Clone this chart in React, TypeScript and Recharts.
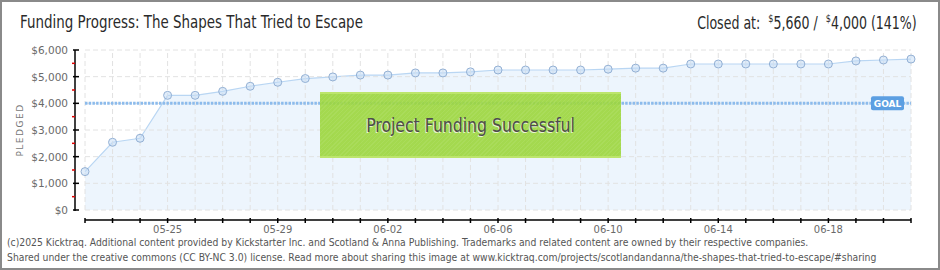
import React from 'react'
import {
  Area,
  ComposedChart,
  ReferenceLine,
  XAxis,
  YAxis,
} from 'recharts'

// daily pledged totals
const DATES = [
  '05-22', '05-23', '05-24', '05-25', '05-26', '05-27', '05-28', '05-29',
  '05-30', '05-31', '06-01', '06-02', '06-03', '06-04', '06-05', '06-06',
  '06-07', '06-08', '06-09', '06-10', '06-11', '06-12', '06-13', '06-14',
  '06-15', '06-16', '06-17', '06-18', '06-19', '06-20', '06-21',
]
const PLEDGED = [
  1440, 2540, 2690, 4300, 4300, 4450, 4640, 4790, 4930, 4990, 5060, 5060,
  5140, 5140, 5180, 5250, 5250, 5250, 5250, 5280, 5320, 5320, 5475, 5475,
  5475, 5475, 5475, 5475, 5590, 5625, 5660,
]
const X_TICK_LABELS = ['05-25', '05-29', '06-02', '06-06', '06-10', '06-14', '06-18']
const Y_TICKS = [0, 500, 1000, 1500, 2000, 2500, 3000, 3500, 4000, 4500, 5000, 5500, 6000]
const Y_GRID = [0, 1000, 2000, 3000, 4000, 5000, 6000]
const GOAL = 4000

const data = DATES.map((date, i) => ({ i, date, pledged: PLEDGED[i] }))
const lastIndex = DATES.length - 1

const FONT = "'DejaVu Sans', sans-serif"

// no condensed face installed, so squeeze the header/footer text horizontally
const squeezed = (scale: number, origin: string): React.CSSProperties => ({
  fontFamily: FONT,
  whiteSpace: 'nowrap',
  transform: `scaleX(${scale})`,
  transformOrigin: origin,
})

function YTick({ x, y, payload }: any) {
  const v = payload.value as number
  const major = v % 1000 === 0
  return (
    <g>
      {major ? (
        <line x1={x + 5} x2={x + 11} y1={y} y2={y} stroke="#000" strokeWidth={1.5} />
      ) : (
        <line x1={x + 4} x2={x + 7} y1={y} y2={y} stroke="#e00000" strokeWidth={1.5} />
      )}
      {major && (
        <text x={x} y={y} dy={4} textAnchor="end" fontSize={10.5} fill="#6a6a6a" fontFamily={FONT}>
          {'$' + v.toLocaleString('en-US')}
        </text>
      )}
    </g>
  )
}

function XTick({ x, y, payload }: any) {
  const label = DATES[payload.value]
  return (
    <g>
      <line x1={x} x2={x} y1={y - 2} y2={y + 3} stroke="#000" strokeWidth={1.5} />
      {X_TICK_LABELS.includes(label) && (
        <text x={x} y={y + 13} textAnchor="middle" fontSize={10} fill="#6a6a6a" fontFamily={FONT}>
          {label}
        </text>
      )}
    </g>
  )
}

function GoalLabel({ viewBox }: any) {
  const right = viewBox.x + viewBox.width
  return (
    <g>
      <rect x={right - 40} y={viewBox.y - 7} width={33} height={14} rx={2} fill="#5c9fe2" />
      <text
        x={right - 23.5}
        y={viewBox.y + 3.5}
        textAnchor="middle"
        fontSize={9}
        fontWeight="bold"
        fill="#fff"
        fontFamily={FONT}
      >
        GOAL
      </text>
    </g>
  )
}

export default function App() {
  return (
    <div style={{ position: 'absolute', left: 0, top: 0, width: 940, height: 270, background: '#fff', overflow: 'hidden' }}>
      <ComposedChart
        width={940}
        height={270}
        data={data}
        margin={{ top: 50, right: 29, left: 0, bottom: 0 }}
      >
        <XAxis
          type="number"
          dataKey="i"
          domain={[0, lastIndex]}
          ticks={data.map((d) => d.i)}
          interval={0}
          padding={{ left: 10, right: 0 }}
          height={50}
          tickSize={0}
          tickMargin={0}
          tickLine={false}
          axisLine={{ stroke: '#000', strokeWidth: 1.5, strokeDasharray: '0 10 826 10' }}
          tick={<XTick />}
        />
        <YAxis
          type="number"
          domain={[0, 6000]}
          ticks={Y_TICKS}
          interval={0}
          padding={{ top: 0, bottom: 10 }}
          width={75}
          tickSize={0}
          tickMargin={7}
          tickLine={false}
          axisLine={{ stroke: '#000', strokeWidth: 1.5, strokeDasharray: '161 20' }}
          tick={<YTick />}
        />
        {data.map((d) => (
          <ReferenceLine
            key={'v' + d.i}
            segment={[{ x: d.i, y: 0 }, { x: d.i, y: 6000 }]}
            stroke="#e2e2e2"
            strokeDasharray="5 3"
          />
        ))}
        {Y_GRID.map((v) => (
          <ReferenceLine
            key={'h' + v}
            segment={[{ x: 0, y: v }, { x: lastIndex, y: v }]}
            stroke="#e2e2e2"
            strokeDasharray="5 3"
          />
        ))}
        <Area
          type="linear"
          dataKey="pledged"
          stroke="#b9d6f3"
          strokeWidth={1.2}
          fill="#dcebfb"
          fillOpacity={0.5}
          dot={{ r: 4, fill: '#c4dcf6', stroke: '#93b0d4', strokeWidth: 1 }}
          activeDot={false}
          isAnimationActive={false}
        />
        <ReferenceLine
          segment={[{ x: 0, y: GOAL }, { x: lastIndex, y: GOAL }]}
          stroke="#8cbbec"
          strokeWidth={3}
          strokeDasharray="2.5 1.2"
          label={<GoalLabel />}
        />
      </ComposedChart>

      <div
        style={{
          position: 'absolute',
          left: 320,
          top: 92,
          width: 301,
          height: 66,
          boxSizing: 'border-box',
          background:
            'repeating-linear-gradient(135deg, rgba(255,255,255,0.07) 0 1px, rgba(255,255,255,0) 1px 3px), rgba(155,214,60,0.9)',
          borderTop: '2px solid rgba(190,230,110,0.95)',
          borderBottom: '2px solid rgba(190,230,110,0.95)',
          display: 'flex',
          alignItems: 'center',
          justifyContent: 'center',
        }}
      >
        <span
          style={{
            ...squeezed(0.825, 'center'),
            fontSize: 19,
            color: '#4d4d4d',
            textShadow: '-1px 1px 0 rgba(255,255,255,0.75)',
          }}
        >
          Project Funding Successful
        </span>
      </div>

      <div
        style={{
          ...squeezed(0.79, 'left center'),
          position: 'absolute',
          left: 20,
          top: 12,
          fontSize: 17,
          color: '#2a2a2a',
        }}
      >
        Funding Progress: The Shapes That Tried to Escape
      </div>
      <div
        style={{
          ...squeezed(0.74, 'right center'),
          position: 'absolute',
          right: 23,
          top: 12,
          fontSize: 17,
          color: '#2a2a2a',
        }}
      >
        Closed at:&nbsp; <sup style={{ fontSize: 11 }}>$</sup>5,660 /&nbsp; <sup style={{ fontSize: 11 }}>$</sup>4,000 (141%)
      </div>

      <div
        style={{
          position: 'absolute',
          left: 20,
          top: 130,
          transform: 'translate(-50%, -50%) rotate(-90deg)',
          fontFamily: FONT,
          fontSize: 9,
          letterSpacing: 1.5,
          color: '#777',
          whiteSpace: 'nowrap',
        }}
      >
        PLEDGED
      </div>

      <div
        style={{
          ...squeezed(0.842, 'left top'),
          position: 'absolute',
          left: 7,
          top: 235,
          fontSize: 11,
          lineHeight: '15px',
          color: '#555',
        }}
      >
        <div>
          (c)2025 Kicktraq. Additional content provided by Kickstarter Inc. and Scotland &amp; Anna Publishing.
          Trademarks and related content are owned by their respective companies.
        </div>
        <div>
          Shared under the creative commons (CC BY-NC 3.0) license. Read more about sharing this image at
          www.kicktraq.com/projects/scotlandandanna/the-shapes-that-tried-to-escape/#sharing
        </div>
      </div>

      <div
        style={{
          position: 'absolute',
          left: 0,
          top: 0,
          width: 940,
          height: 270,
          boxSizing: 'border-box',
          border: '2px solid #8a8a8a',
          pointerEvents: 'none',
        }}
      />
    </div>
  )
}
